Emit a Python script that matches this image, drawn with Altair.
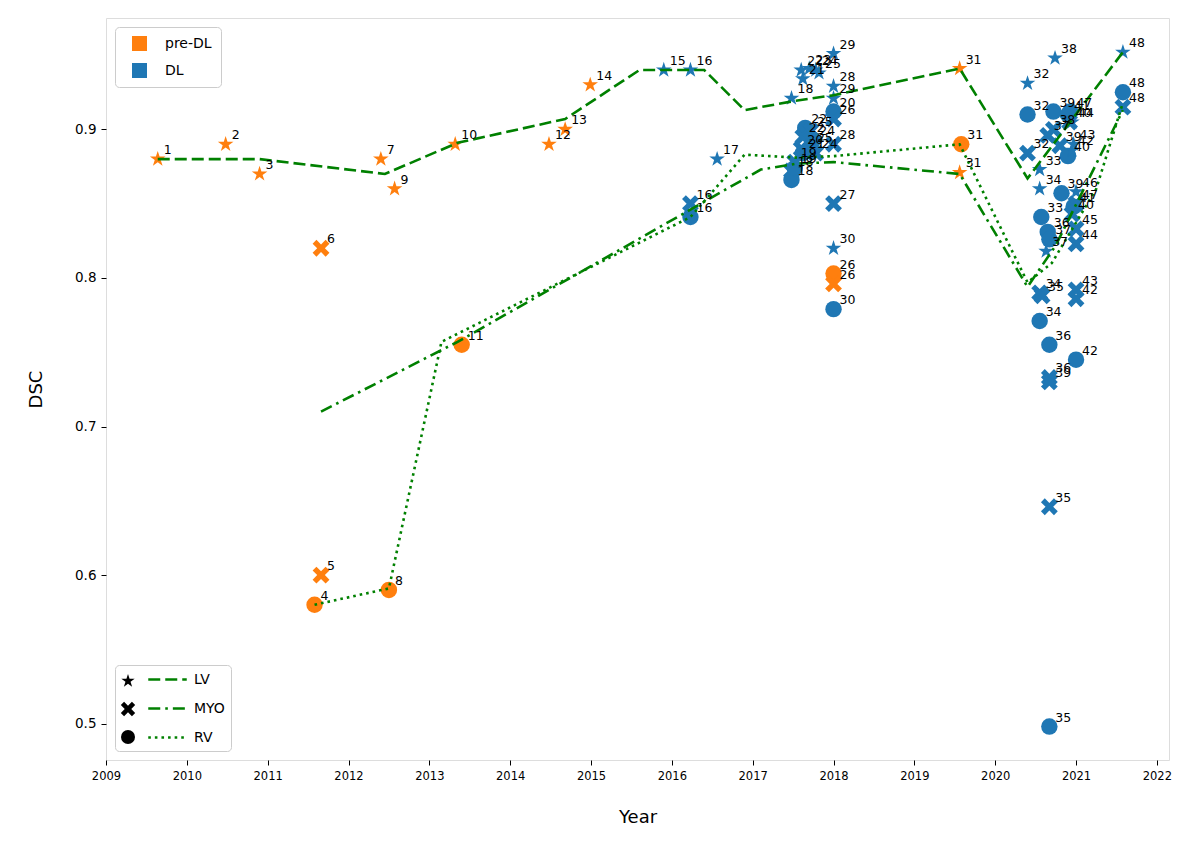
import math
import altair as alt
import pandas as pd

# ---------------- data ----------------
pre_id = [1, 2, 3, 4, 5, 6, 7, 8, 9, 10, 11, 12, 13, 14, 26, 26, 31, 31, 31]
pre_year = [2009.64, 2010.48, 2010.90, 2011.58, 2011.66, 2011.66, 2012.40, 2012.50,
            2012.57, 2013.32, 2013.40, 2014.48, 2014.68, 2014.99, 2018.00, 2018.00,
            2019.56, 2019.58, 2019.56]
pre_struct = ["LV", "LV", "LV", "RV", "MYO", "MYO", "LV", "RV", "LV", "LV", "RV", "LV",
              "LV", "LV", "RV", "MYO", "LV", "RV", "LV"]
pre_dsc = [0.880, 0.890, 0.870, 0.580, 0.600, 0.820, 0.880, 0.590, 0.860, 0.890, 0.755,
           0.890, 0.900, 0.930, 0.803, 0.796, 0.941, 0.890, 0.871]

dl_id = [15, 16, 16, 16, 17, 18, 18, 18, 19, 19, 20, 20, 21, 21, 22, 22, 22, 23, 24, 24,
         24, 25, 25, 25, 26, 27, 28, 28, 29, 29, 30, 30,
         32, 32, 32, 33, 33, 34, 34, 34, 35, 35, 35, 36, 36, 36, 37, 37, 37, 38, 38,
         39, 39, 39, 39, 40, 40, 40, 41, 41, 42, 42, 42, 43, 43, 44, 44, 45, 46, 47, 47,
         48, 48, 48]
dl_year = [2015.90, 2016.23, 2016.23, 2016.23, 2016.56, 2017.48, 2017.48, 2017.48,
           2017.52, 2017.52, 2017.60, 2018.00, 2017.62, 2017.62, 2017.60, 2017.65,
           2017.62, 2017.70, 2017.78, 2017.75, 2017.78, 2017.82, 2017.72, 2017.72,
           2018.00, 2018.00, 2018.00, 2018.00, 2018.00, 2018.00, 2018.00, 2018.00,
           2020.40, 2020.40, 2020.40, 2020.55, 2020.57, 2020.55, 2020.55, 2020.55,
           2020.58, 2020.67, 2020.67, 2020.65, 2020.67, 2020.67, 2020.65, 2020.67,
           2020.63, 2020.74, 2020.72, 2020.72, 2020.80, 2020.82, 2020.67, 2020.92,
           2020.90, 2020.95, 2020.90, 2020.97, 2021.00, 2021.00, 2020.95, 2021.00,
           2020.97, 2021.00, 2020.95, 2021.00, 2021.00, 2020.93, 2021.00,
           2021.58, 2021.58, 2021.58]
dl_struct = ["LV", "LV", "MYO", "RV", "LV", "LV", "MYO", "RV", "MYO", "RV", "MYO", "RV",
             "LV", "RV", "LV", "RV", "MYO", "LV", "LV", "RV", "MYO", "LV", "MYO", "RV",
             "MYO", "MYO", "LV", "MYO", "LV", "LV", "LV", "RV",
             "LV", "RV", "MYO", "LV", "RV", "LV", "MYO", "RV", "MYO", "MYO", "RV",
             "RV", "RV", "MYO", "MYO", "RV", "LV", "LV", "MYO", "RV", "MYO", "RV", "MYO",
             "MYO", "RV", "MYO", "RV", "RV", "MYO", "RV", "LV", "MYO", "LV", "MYO", "LV",
             "MYO", "LV", "RV", "MYO", "LV", "RV", "MYO"]
dl_dsc = [0.940, 0.940, 0.850, 0.841, 0.880, 0.921, 0.872, 0.866, 0.878, 0.874, 0.887,
          0.912, 0.934, 0.884, 0.940, 0.901, 0.895, 0.941, 0.940, 0.893, 0.884, 0.938,
          0.899, 0.888, 0.907, 0.850, 0.929, 0.890, 0.951, 0.921, 0.820, 0.779,
          0.931, 0.910, 0.884, 0.873, 0.841, 0.860, 0.790, 0.771, 0.788, 0.646, 0.498,
          0.831, 0.755, 0.733, 0.896, 0.826, 0.818, 0.948, 0.900, 0.912, 0.889, 0.857,
          0.730, 0.905, 0.882, 0.843, 0.910, 0.848, 0.786, 0.745, 0.886, 0.792, 0.890,
          0.823, 0.905, 0.833, 0.858, 0.912, 0.850, 0.952, 0.925, 0.915]

# trend lines (vertices)
lv_line_year = [2009.64, 2010.90, 2012.45, 2013.35, 2014.68, 2015.60, 2016.40, 2016.90,
                2017.50, 2018.00, 2019.56, 2020.40, 2021.58]
lv_line_dsc = [0.880, 0.880, 0.870, 0.891, 0.907, 0.940, 0.940, 0.913, 0.919, 0.923,
               0.941, 0.867, 0.952]
myo_line_year = [2011.66, 2013.35, 2016.23, 2017.10, 2017.55, 2018.00, 2019.56, 2020.40,
                 2020.75, 2021.58]
myo_line_dsc = [0.710, 0.757, 0.846, 0.873, 0.877, 0.878, 0.870, 0.794, 0.822, 0.913]
rv_line_year = [2011.58, 2012.50, 2013.15, 2016.23, 2016.90, 2017.55, 2018.00, 2019.56,
                2020.40, 2020.70, 2021.25, 2021.58]
rv_line_dsc = [0.580, 0.591, 0.757, 0.841, 0.883, 0.881, 0.882, 0.890, 0.797, 0.810,
               0.860, 0.918]

x_ticks = list(range(2009, 2023))
y_ticks = [0.5, 0.6, 0.7, 0.8, 0.9]
STRUCTS = ["LV", "MYO", "RV"]
GROUPS = ["pre-DL", "DL"]

# ---------------- tables ----------------
points_df = pd.DataFrame({
    "id": pre_id + dl_id,
    "year": pre_year + dl_year,
    "struct": pre_struct + dl_struct,
    "dsc": pre_dsc + dl_dsc,
    "group": ["pre-DL"] * len(pre_id) + ["DL"] * len(dl_id),
})

rows = []
for s, xs, ys in [("LV", lv_line_year, lv_line_dsc),
                  ("MYO", myo_line_year, myo_line_dsc),
                  ("RV", rv_line_year, rv_line_dsc)]:
    for i, (xv, yv) in enumerate(zip(xs, ys)):
        rows.append({"struct": s, "year": xv, "dsc": yv, "order": i})
lines_df = pd.DataFrame(rows)

# ---------------- marker shapes ----------------
STAR = ("M0,-1L0.2245,-0.309L0.9511,-0.309L0.3633,0.118L0.5878,0.809L0,0.382"
        "L-0.5878,0.809L-0.3633,0.118L-0.9511,-0.309L-0.2245,-0.309Z")


def x_marker(w=0.33, arm=1.12):
    pts = [(-w, -arm), (w, -arm), (w, -w), (arm, -w), (arm, w), (w, w), (w, arm),
           (-w, arm), (-w, w), (-arm, w), (-arm, -w), (-w, -w)]
    s = math.sqrt(0.5)
    rot = [((a - b) * s, (a + b) * s) for a, b in pts]
    return "M" + "L".join(f"{a:.3f},{b:.3f}" for a, b in rot) + "Z"


XMARK = x_marker()
LINE_SYM = "M-2.75,0L2.75,0"

FONT = "DejaVu Sans"
GREEN = "#008000"
ORANGE = "#ff7f0e"
BLUE = "#1f77b4"

xscale = alt.Scale(domain=[2009.0, 2022.15], nice=False, zero=False)
yscale = alt.Scale(domain=[0.4755, 0.975], nice=False, zero=False)

xaxis = alt.Axis(values=x_ticks, format="d", title="Year", labelFontSize=11.5,
                 titleFontSize=18, titleFontWeight="normal", grid=False, domain=False,
                 tickSize=5, tickColor="black", labelColor="black", titleColor="black",
                 labelPadding=5, titlePadding=27, labelFlush=False, labelOverlap=False,
                 labelFont=FONT, titleFont=FONT)
yaxis = alt.Axis(values=y_ticks, format=".1f", title="DSC", labelFontSize=13.5,
                 titleFontSize=18, titleFontWeight="normal", grid=False, domain=False,
                 tickSize=5, tickColor="black", labelColor="black", titleColor="black",
                 labelPadding=5, titlePadding=29, labelOverlap=False,
                 labelFont=FONT, titleFont=FONT)

base = alt.Chart(points_df)

points = base.mark_point(filled=True, opacity=1, size=270, strokeWidth=0).encode(
    x=alt.X("year:Q", scale=xscale, axis=xaxis),
    y=alt.Y("dsc:Q", scale=yscale, axis=yaxis),
    color=alt.Color("group:N", scale=alt.Scale(domain=GROUPS, range=[ORANGE, BLUE]),
                    legend=alt.Legend(title=None, orient="top-left", offset=9,
                                      symbolType="square", symbolSize=225,
                                      symbolStrokeWidth=0, symbolOffset=8,
                                      labelOffset=18, labelFontSize=14, labelFont=FONT,
                                      labelColor="black", rowPadding=12, padding=9,
                                      fillColor="white", strokeColor="#cccccc",
                                      cornerRadius=4)),
    shape=alt.Shape("struct:N", scale=alt.Scale(domain=STRUCTS, range=[STAR, XMARK, "circle"]),
                    legend=alt.Legend(title=None, orient="none", legendX=9, legendY=650,
                                      symbolSize=196, symbolFillColor="black",
                                      symbolStrokeColor="black", symbolStrokeWidth=0,
                                      labelFontSize=14, labelFont=FONT, labelOpacity=0,
                                      rowPadding=13, padding=6, zindex=3)),
)

lines = alt.Chart(lines_df).mark_line(color=GREEN, strokeWidth=2.6).encode(
    x=alt.X("year:Q", scale=xscale),
    y=alt.Y("dsc:Q", scale=yscale),
    order="order:Q",
    strokeDash=alt.StrokeDash(
        "struct:N",
        scale=alt.Scale(domain=STRUCTS, range=[[12, 5], [12, 5, 2.6, 5], [2.6, 4]]),
        legend=alt.Legend(title=None, orient="bottom-left", offset=9,
                          symbolType=LINE_SYM, symbolSize=196, symbolStrokeColor=GREEN,
                          symbolStrokeWidth=2.6, symbolOffset=38, labelOffset=18,
                          labelFontSize=14, labelFont=FONT, labelColor="black",
                          rowPadding=13, padding=6, fillColor="white",
                          strokeColor="#cccccc", cornerRadius=4, zindex=1)),
)

labels = base.mark_text(align="left", baseline="alphabetic", dx=6, dy=-5, fontSize=12.5,
                        font=FONT, color="black").encode(
    x=alt.X("year:Q", scale=xscale),
    y=alt.Y("dsc:Q", scale=yscale),
    text="id:N",
)

chart = alt.layer(points, lines, labels).properties(
    width=1063, height=742,
    autosize=alt.AutoSizeParams(type="none"),
    padding={"left": 98, "top": 10, "right": 22, "bottom": 80},
).configure_view(stroke="black", strokeWidth=1.2).configure(background="white")

chart.save("out.html", embed_options={"renderer": "svg", "actions": False})
